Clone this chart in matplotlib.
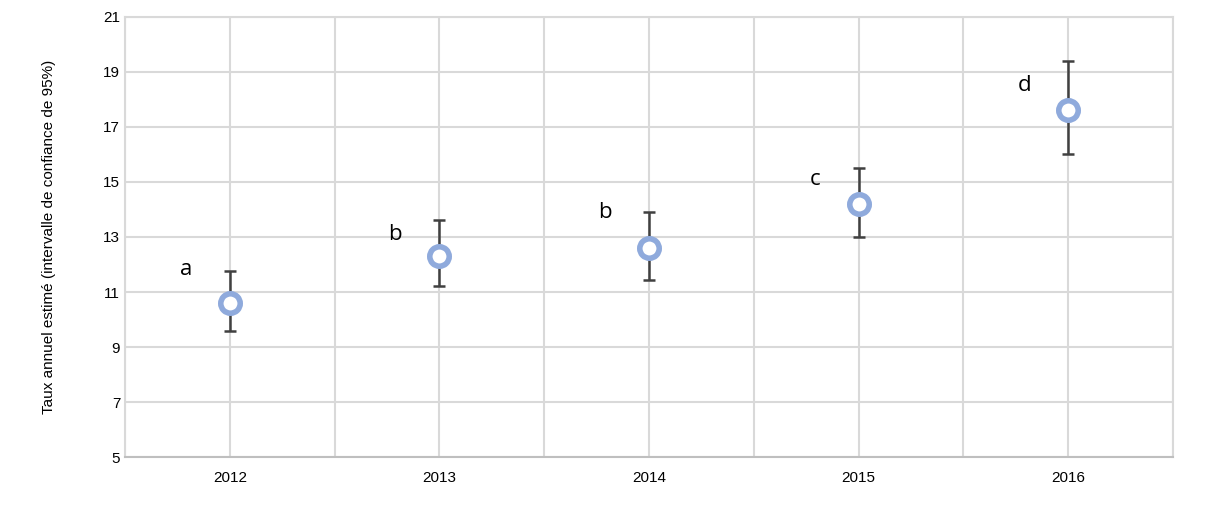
import matplotlib
matplotlib.use("Agg")
import matplotlib.pyplot as plt
import numpy as np

years = ["2012", "2013", "2014", "2015", "2016"]
rates = [10.6, 12.3, 12.6, 14.2, 17.6]
upper = [11.75, 13.6, 13.9, 15.5, 19.4]
lower = [9.6, 11.2, 11.45, 13.0, 16.0]
letters = ["a", "b", "b", "c", "d"]
letter_y = [11.8, 13.1, 13.9, 15.1, 18.5]

plt.rcParams['font.family'] = ['Liberation Sans', 'DejaVu Sans']
fig = plt.figure(figsize=(12.15, 5.07), dpi=100)
ax = fig.add_axes([0.1029, 0.0986, 0.8625, 0.8679])
x = np.arange(len(years))
r = np.array(rates)
yerr = [r - np.array(lower), np.array(upper) - r]
ax.errorbar(x, r, yerr=yerr, fmt='none', ecolor='#404040', elinewidth=1.8, capsize=4, capthick=1.8, zorder=3)
ax.plot(x, r, 'o', ms=14, mfc='white', mec='#8faadc', mew=4, ls='none', zorder=4)
for xi, t, ly in zip(x, letters, letter_y):
    ax.text(xi - 0.21, ly, t, fontsize=16, family=['Open Sans', 'DejaVu Sans'], ha='center', va='center')
ax.set_xlim(-0.5, 4.5)
ax.set_ylim(5, 21)
ax.set_yticks(np.arange(5, 22, 2))
ax.set_xticks(x)
ax.set_xticklabels(years)
ax.set_xticks(np.arange(-0.5, 4.6, 1.0), minor=True)
ax.grid(True, which='both', color='#d9d9d9', lw=1.5, zorder=0)
ax.tick_params(which='both', length=0, labelsize=11)
ax.tick_params(axis='x', pad=10)
for s in ax.spines.values():
    s.set_color('#d9d9d9'); s.set_linewidth(1.5)
ax.spines['bottom'].set_color('#bfbfbf')
ax.set_ylabel("Taux annuel estimé (intervalle de confiance de 95%)", fontsize=11, labelpad=34)
fig.savefig("out.png", dpi=100)
